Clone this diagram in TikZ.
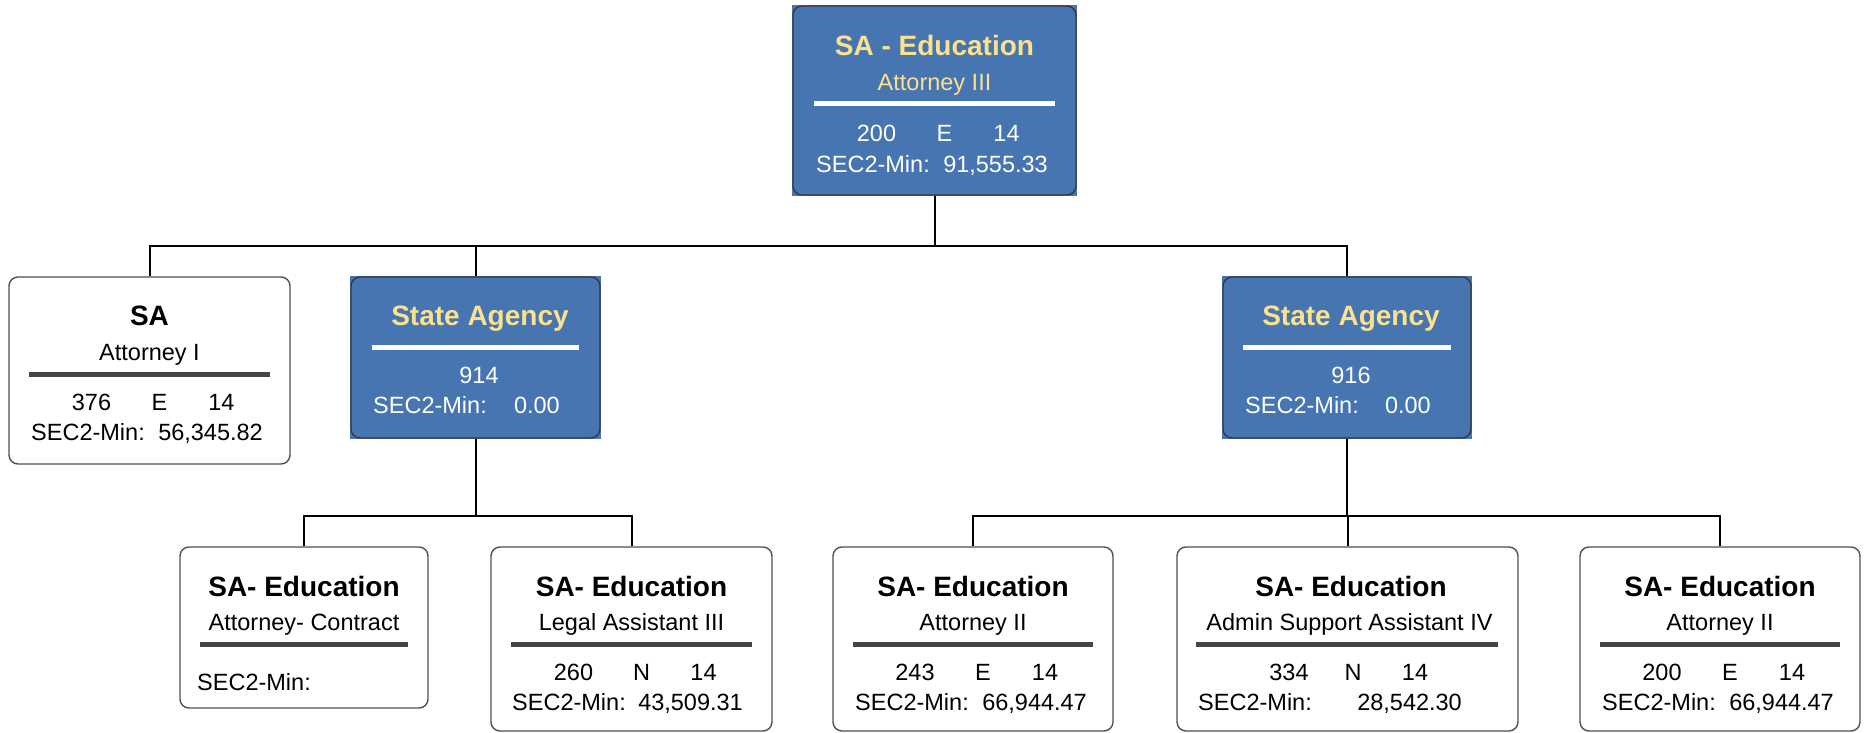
\documentclass[tikz,border=0pt]{standalone}
\usepackage{fontspec}
\setmainfont{Liberation Sans}
\usetikzlibrary{backgrounds}
\definecolor{boxblue}{HTML}{4675B2}
\definecolor{titleyel}{HTML}{FAE18C}
\definecolor{rulegray}{HTML}{454545}
\definecolor{edgegray}{HTML}{505050}
\begin{document}
\begin{tikzpicture}[x=1pt,y=-1pt,
  wbox/.style={draw=edgegray,line width=1.4pt,rounded corners=9pt,inner sep=0pt,fill=white},
  bbox/.style={draw=edgegray!70!black,line width=1.4pt,rounded corners=9pt,inner sep=0pt},
  ttl/.style={anchor=base,font=\fontsize{28}{30}\selectfont\bfseries,inner sep=0pt},
  role/.style={anchor=base,font=\fontsize{23.5}{26}\selectfont,inner sep=0pt},
  val/.style={anchor=base,font=\fontsize{23.5}{26}\selectfont,inner sep=0pt},
  conn/.style={line width=2pt,black},
  wrule/.style={line width=5pt,white},
  drule/.style={line width=5pt,rulegray}]
\useasboundingbox (0,0) rectangle (1865,733);

% ---------- boxes ----------
\node[bbox,minimum width=283pt,minimum height=189pt] (top) at (934.5,100.5) {};
\node[wbox,minimum width=281pt,minimum height=187pt] (sa) at (149.5,370.5) {};
\node[bbox,minimum width=249pt,minimum height=161pt] (a914) at (475.5,357.5) {};
\node[bbox,minimum width=248pt,minimum height=161pt] (a916) at (1347,357.5) {};
\node[wbox,minimum width=248pt,minimum height=161pt] (b1) at (304,627.5) {};
\node[wbox,minimum width=281pt,minimum height=184pt] (b2) at (631.5,639) {};
\node[wbox,minimum width=280pt,minimum height=184pt] (b3) at (973,639) {};
\node[wbox,minimum width=341pt,minimum height=184pt] (b4) at (1347.5,639) {};
\node[wbox,minimum width=280pt,minimum height=184pt] (b5) at (1720,639) {};

\begin{scope}[on background layer]
  \fill[boxblue] (top.south west) rectangle (top.north east);
  \fill[boxblue] (a914.south west) rectangle (a914.north east);
  \fill[boxblue] (a916.south west) rectangle (a916.north east);
\end{scope}

% ---------- connectors ----------
\coordinate (bus1) at (934.5,246);
\coordinate (bus2) at (475.5,516);
\coordinate (bus3) at (1347,516);
\draw[conn] (top.south) -- (bus1);
\draw[conn] (sa.north) |- (bus1);
\draw[conn] (a914.north) |- (bus1);
\draw[conn] (a916.north) |- (bus1);
\draw[conn] (a914.south) -- (bus2);
\draw[conn] (b1.north) |- (bus2);
\draw[conn] (b2.north) |- (bus2);
\draw[conn] (a916.south) -- (bus3);
\draw[conn] (b3.north) |- (bus3);
\draw[conn] (b4.north) |- (bus3);
\draw[conn] (b5.north) |- (bus3);

% ---------- top box ----------
\node[ttl,text=titleyel] (top-t) at (934.5,56) {SA - Education};
\node[role,text=titleyel] (top-r) at (934.5,91) {Attorney III};
\draw[wrule] (814,104) -- (1055,104);
\node[val,text=white] (top-n1) at (876.5,142) {200};
\node[val,text=white] (top-n2) at (944.5,142) {E};
\node[val,text=white] (top-n3) at (1006.5,142) {14};
\node[val,text=white,anchor=base west] (top-s1) at (816,172) {SEC2-Min:};
\node[val,text=white,anchor=base east] (top-s2) at (1048,172) {91,555.33};

% ---------- SA ----------
\node[ttl] (sa-t) at (149.5,325) {SA};
\node[role] (sa-r) at (149.5,360) {Attorney I};
\draw[drule] (29,374) -- (270,374);
\node[val] (sa-n1) at (91.5,410) {376};
\node[val] (sa-n2) at (159.5,410) {E};
\node[val] (sa-n3) at (221.5,410) {14};
\node[val,anchor=base west] (sa-s1) at (31,440) {SEC2-Min:};
\node[val,anchor=base east] (sa-s2) at (263,440) {56,345.82};

% ---------- State Agency 914 ----------
\node[ttl,text=titleyel] (a914-t) at (480,325) {State Agency};
\draw[wrule] (372,347) -- (579,347);
\node[val,text=white] (a914-n) at (479,383) {914};
\node[val,text=white,anchor=base west] (a914-s1) at (373,413) {SEC2-Min:};
\node[val,text=white,anchor=base east] (a914-s2) at (560,413) {0.00};

% ---------- State Agency 916 ----------
\node[ttl,text=titleyel] (a916-t) at (1351,325) {State Agency};
\draw[wrule] (1243,347) -- (1451,347);
\node[val,text=white] (a916-n) at (1351,383) {916};
\node[val,text=white,anchor=base west] (a916-s1) at (1245,413) {SEC2-Min:};
\node[val,text=white,anchor=base east] (a916-s2) at (1431,413) {0.00};

% ---------- bottom row ----------
\node[ttl] (b1-t) at (304,596) {SA- Education};
\node[role] (b1-r) at (304,630) {Attorney- Contract};
\draw[drule] (200,644) -- (408,644);
\node[val,anchor=base west] (b1-s1) at (197,690) {SEC2-Min:};

\node[ttl] (b2-t) at (631.5,596) {SA- Education};
\node[role] (b2-r) at (631.5,630) {Legal Assistant III};
\draw[drule] (511,644) -- (752,644);
\node[val] (b2-n1) at (573.5,680) {260};
\node[val] (b2-n2) at (641.5,680) {N};
\node[val] (b2-n3) at (703.5,680) {14};
\node[val,anchor=base west] (b2-s1) at (512,710) {SEC2-Min:};
\node[val,anchor=base east] (b2-s2) at (743,710) {43,509.31};

\node[ttl] (b3-t) at (973,596) {SA- Education};
\node[role] (b3-r) at (973,630) {Attorney II};
\draw[drule] (853,644) -- (1093,644);
\node[val] (b3-n1) at (915,680) {243};
\node[val] (b3-n2) at (983,680) {E};
\node[val] (b3-n3) at (1045,680) {14};
\node[val,anchor=base west] (b3-s1) at (855,710) {SEC2-Min:};
\node[val,anchor=base east] (b3-s2) at (1087,710) {66,944.47};

\node[ttl] (b4-t) at (1351,596) {SA- Education};
\node[role] (b4-r) at (1349.5,630) {Admin Support Assistant IV};
\draw[drule] (1196,644) -- (1498,644);
\node[val] (b4-n1) at (1289,680) {334};
\node[val] (b4-n2) at (1353,680) {N};
\node[val] (b4-n3) at (1415,680) {14};
\node[val,anchor=base west] (b4-s1) at (1198,710) {SEC2-Min:};
\node[val,anchor=base east] (b4-s2) at (1462,710) {28,542.30};

\node[ttl] (b5-t) at (1720,596) {SA- Education};
\node[role] (b5-r) at (1720,630) {Attorney II};
\draw[drule] (1600,644) -- (1840,644);
\node[val] (b5-n1) at (1662,680) {200};
\node[val] (b5-n2) at (1730,680) {E};
\node[val] (b5-n3) at (1792,680) {14};
\node[val,anchor=base west] (b5-s1) at (1602,710) {SEC2-Min:};
\node[val,anchor=base east] (b5-s2) at (1834,710) {66,944.47};
\end{tikzpicture}
\end{document}
